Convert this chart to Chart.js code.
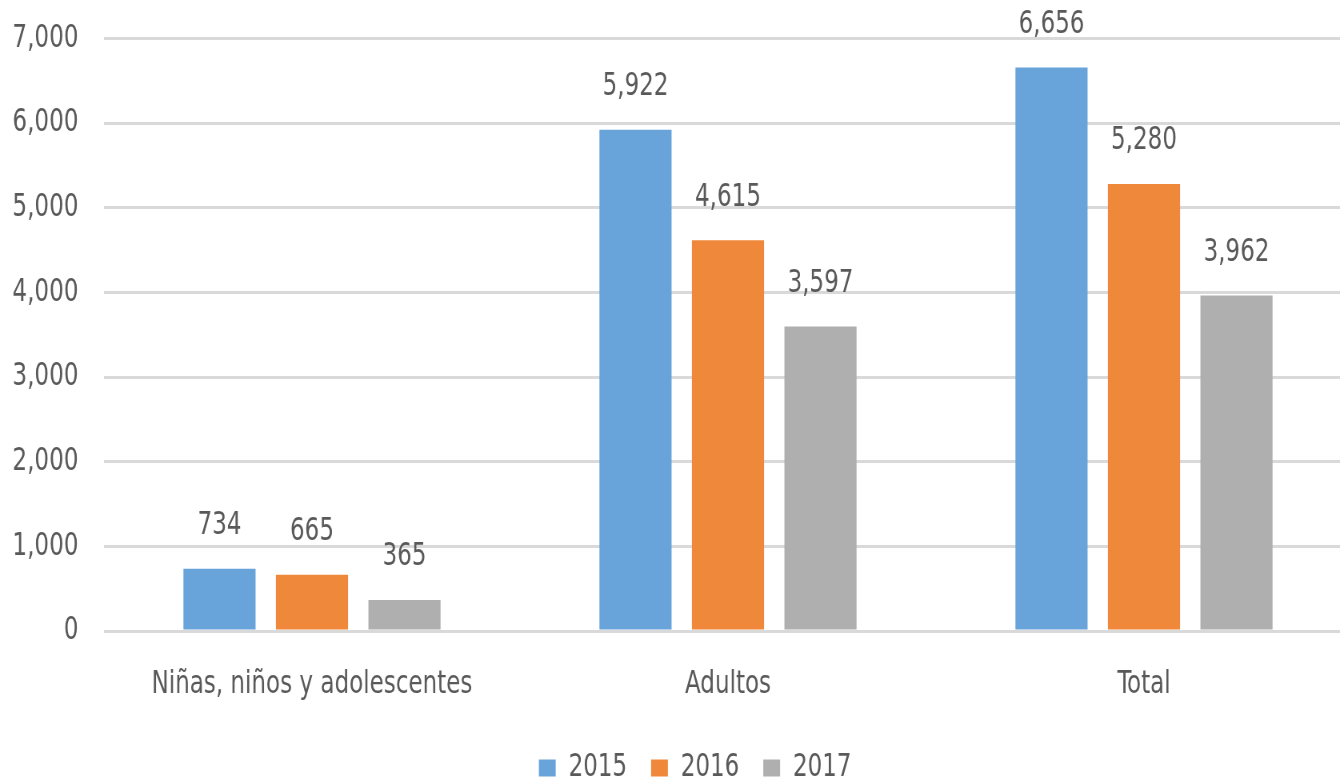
<!DOCTYPE html>
<html>
<head>
<meta charset="utf-8">
<script src="https://cdn.jsdelivr.net/npm/chart.js@4/dist/chart.umd.min.js"></script>
<style>
html,body{margin:0;padding:0;background:#fff;overflow:hidden;width:1340px;height:778px;}
#wrap{position:absolute;left:0;top:0;width:1738px;height:778px;transform:scaleX(0.8);transform-origin:0 0;}
</style>
</head>
<body>
<div id="wrap"><canvas id="c" width="1738" height="778"></canvas></div>
<script>
const categories = ["Niñas, niños y adolescentes", "Adultos", "Total"];
const seriesNames = ["2015", "2016", "2017"];
const values2015 = [734, 5922, 6656];
const values2016 = [665, 4615, 5280];
const values2017 = [365, 3597, 3962];
const yTicks = [0, 1000, 2000, 3000, 4000, 5000, 6000, 7000];

const FONT = '"DejaVu Sans Condensed", "Liberation Sans Narrow", sans-serif';
const FS = 32;
const TXT = '#595959';
const colors = ['#68A4D9', '#EF883B', '#AFAFAF'];
const fmt = v => v.toLocaleString('en-US');

const labelPlugin = {
  id: 'barLabels',
  afterDatasetsDraw(chart) {
    const ctx = chart.ctx;
    ctx.save();
    ctx.font = FS + 'px ' + FONT;
    ctx.fillStyle = TXT;
    ctx.textAlign = 'center';
    ctx.textBaseline = 'middle';
    chart.data.datasets.forEach((ds, i) => {
      chart.getDatasetMeta(i).data.forEach((bar, j) => {
        ctx.fillText(fmt(ds.data[j]), bar.x, bar.y - 43);
      });
    });
    ctx.restore();
  }
};

new Chart(document.getElementById('c'), {
  type: 'bar',
  data: {
    labels: categories,
    datasets: [
      { label: seriesNames[0], data: values2015, backgroundColor: colors[0] },
      { label: seriesNames[1], data: values2016, backgroundColor: colors[1] },
      { label: seriesNames[2], data: values2017, backgroundColor: colors[2] }
    ]
  },
  options: {
    responsive: false,
    animation: false,
    devicePixelRatio: 1,
    categoryPercentage: 0.667,
    barPercentage: 0.78,
    layout: { padding: { top: 0, right: 0, left: 0, bottom: -16 } },
    plugins: {
      tooltip: { enabled: false },
      legend: {
        position: 'bottom',
        labels: {
          font: { family: FONT, size: FS },
          color: TXT,
          boxWidth: 21,
          boxHeight: 17,
          padding: 30
        }
      }
    },
    scales: {
      x: {
        grid: { display: false, drawTicks: false },
        border: { display: false },
        afterFit: s => { s.height = 91; },
        ticks: { font: { family: FONT, size: FS }, color: TXT, padding: 34, maxRotation: 0 }
      },
      y: {
        min: 0, max: 7000,
        afterBuildTicks: s => { s.ticks = yTicks.map(v => ({ value: v })); },
        afterFit: s => { s.width = 130; },
        grid: { color: '#D9D9D9', lineWidth: 3, drawTicks: false },
        border: { display: false },
        ticks: { font: { family: FONT, size: FS, lineHeight: 0.4 }, color: TXT, padding: 32, callback: v => fmt(v) }
      },
      yRight: {
        position: 'right',
        min: 0, max: 7000,
        afterFit: s => { s.width = 48; },
        grid: { display: false, drawTicks: false },
        border: { display: false },
        ticks: { font: { size: 1, lineHeight: 0.1 }, padding: 0, callback: () => '' }
      }
    }
  },
  plugins: [labelPlugin]
});
</script>
</body>
</html>
